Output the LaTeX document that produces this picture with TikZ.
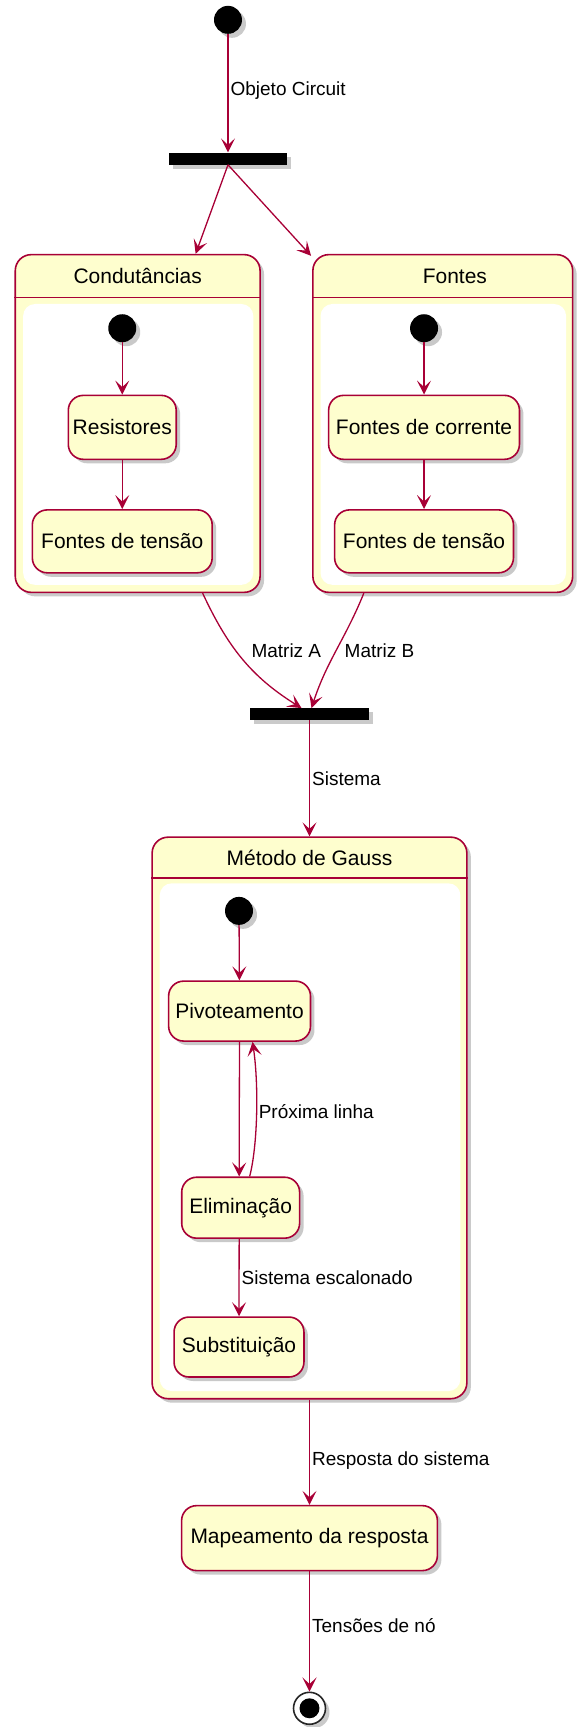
\documentclass[tikz,border=0pt]{standalone}
\usepackage{fontspec}
\setmainfont{Liberation Sans}
\usetikzlibrary{arrows.meta,shadows,calc}
\definecolor{pborder}{HTML}{A80036}
\definecolor{pfill}{HTML}{FEFECE}
\tikzset{
  shad/.style={drop shadow={shadow xshift=4pt,shadow yshift=-4pt,opacity=0.35,fill=black!60}},
  statebox/.style={draw=pborder,fill=pfill,line width=1.6pt,rounded corners=15pt,shad,
    font=\fontsize{21}{24}\selectfont,inner sep=0pt},
  compbox/.style={draw=pborder,fill=pfill,line width=1.6pt,rounded corners=16pt,shad,inner sep=0pt},
  initst/.style={circle,fill=black,minimum size=28pt,inner sep=0pt,shad},
  forkbar/.style={rectangle,fill=black,minimum width=119pt,minimum height=12pt,inner sep=0pt,shad},
  trans/.style={draw=pborder,line width=1.3pt,-{Stealth[length=14pt,width=14pt,inset=6.5pt]}},
  lbl/.style={font=\fontsize{19}{22}\selectfont,inner sep=2pt},
  titl/.style={font=\fontsize{21}{24}\selectfont,inner sep=0pt}
}
\begin{document}
\begin{tikzpicture}[x=1.1023pt,y=-1.1023pt]
\useasboundingbox (0,0) rectangle (528,1568);

% top
\node[initst] (init) at (207,18) {};
\node[forkbar] (fork1) at (207,144) {};

% Condutancias composite
\node[compbox,minimum width=245pt,minimum height=338pt] (cond) at (125,384.5) {};
\fill[white,rounded corners=12pt] (21,276) rectangle (230,531);
\draw[pborder,line width=1.6pt] (cond.west |- 0,270) -- (cond.east |- 0,270);
\node[titl] (condt) at (125,251) {Condutâncias};
\node[initst] (i2) at (111,298) {};
\node[statebox,minimum width=108pt,minimum height=64pt] (res) at (111,388) {Resistores};
\node[statebox,minimum width=180pt,minimum height=63pt] (ftl) at (111,491.5) {Fontes de tensão};

% Fontes composite
\node[compbox,minimum width=260pt,minimum height=338pt] (font) at (402,384.5) {};
\fill[white,rounded corners=12pt] (291,276) rectangle (514,531);
\draw[pborder,line width=1.6pt] (font.west |- 0,270) -- (font.east |- 0,270);
\node[titl] (fontt) at (413,251) {Fontes};
\node[initst] (i3) at (385,298) {};
\node[statebox,minimum width=191pt,minimum height=64pt] (fc) at (385,388) {Fontes de corrente};
\node[statebox,minimum width=179pt,minimum height=63pt] (ftr) at (385,491.5) {Fontes de tensão};

\node[forkbar] (fork2) at (281,648.5) {};

% Gauss composite
\node[compbox,minimum width=315pt,minimum height=562pt] (gauss) at (281,1015) {};
\fill[white,rounded corners=12pt] (145,802) rectangle (418,1263);
\draw[pborder,line width=1.6pt] (gauss.west |- 0,797) -- (gauss.east |- 0,797);
\node[titl] (gausst) at (281,779) {Método de Gauss};
\node[initst] (i4) at (217,827) {};
\node[statebox,minimum width=142pt,minimum height=60pt] (piv) at (217.5,918) {Pivoteamento};
\node[statebox,minimum width=118pt,minimum height=61pt] (elim) at (218.5,1096.5) {Eliminação};
\node[statebox,minimum width=130pt,minimum height=60pt] (subs) at (217,1223) {Substituição};

\node[statebox,minimum width=256pt,minimum height=65pt] (map) at (281,1396.5) {Mapeamento da resposta};

% final
\node[circle,draw=black!85,fill=white,line width=1.6pt,minimum size=32pt,inner sep=0pt,shad] (fin) at (281,1551) {};
\node[circle,fill=black,minimum size=20pt,inner sep=0pt] (finin) at (fin) {};

% transitions
\draw[trans] (init) -- node[lbl,right,pos=0.48] {Objeto Circuit} (fork1);
\draw[trans] (fork1.south) -- ([xshift=58pt]cond.north);
\draw[trans] (fork1.south) -- ([xshift=-1pt,yshift=-2pt]font.north west);
\draw[trans] (i2) -- (res);
\draw[trans] (res) -- (ftl);
\draw[trans] (i3) -- (fc);
\draw[trans] (fc) -- (ftr);
\draw[trans] ([xshift=65pt]cond.south) to[out=-65,in=148] ([xshift=-8pt]fork2.north);
\node[lbl] (ma) at (260,591) {Matriz A};
\draw[trans] ([xshift=-79pt]font.south) to[out=-112,in=72] ([xshift=2pt]fork2.north);
\node[lbl,anchor=west] (mb) at (311,591) {Matriz B};
\draw[trans] (fork2) -- node[lbl,right,pos=0.5] {Sistema} (gauss.north);
\draw[trans] (i4) -- (piv);
\draw[trans] (piv) -- ([xshift=-1.5pt]elim.north);
\draw[trans] ([xshift=9pt]elim.north) .. controls (234,1040) and (235,985) .. ([xshift=13pt]piv.south);
\node[lbl,anchor=west] (pl) at (233,1009) {Próxima linha};
\draw[trans] ([xshift=-1.5pt]elim.south) -- node[lbl,right,pos=0.5] {Sistema escalonado} (subs.north);
\draw[trans] (gauss.south) -- node[lbl,right,pos=0.58] {Resposta do sistema} (map.north);
\draw[trans] (map.south) -- node[lbl,right,pos=0.45] {Tensões de nó} (fin.north);
\end{tikzpicture}
\end{document}
